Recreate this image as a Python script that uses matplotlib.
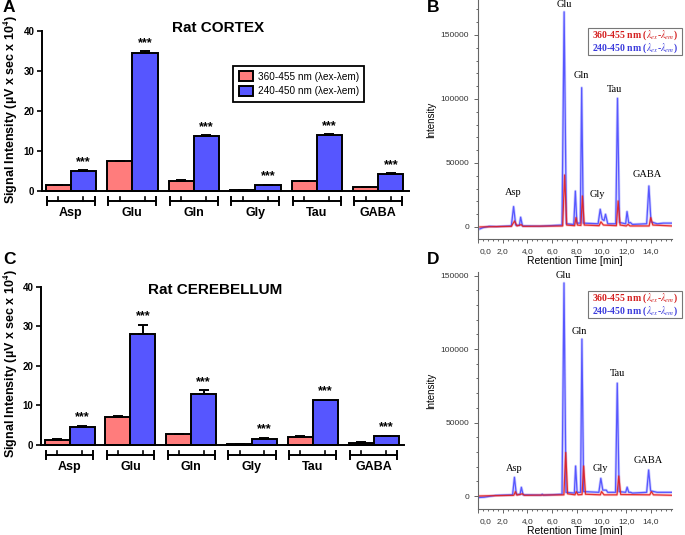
import matplotlib
matplotlib.use("Agg")
import matplotlib.pyplot as plt
from matplotlib.ticker import MultipleLocator, FuncFormatter
from matplotlib.transforms import ScaledTranslation

plt.rcParams["font.family"] = ["Liberation Sans", "DejaVu Sans"]
plt.rcParams["mathtext.fontset"] = "stix"

W, H = 685, 535

# --- bar data (signal intensity, µV x sec x 10^4) ---
amino = ["Asp", "Glu", "Gln", "Gly", "Tau", "GABA"]

cortex_red = [1.5, 7.4, 2.6, 0.3, 2.5, 0.9]
cortex_red_err = [0.1, 0.15, 0.1, 0.05, 0.1, 0.05]
cortex_blue = [5.0, 34.6, 13.8, 1.5, 14.0, 4.3]
cortex_blue_err = [0.15, 0.35, 0.15, 0.1, 0.2, 0.1]

cereb_red = [1.3, 7.0, 2.8, 0.3, 2.1, 0.6]
cereb_red_err = [0.1, 0.3, 0.1, 0.05, 0.1, 0.05]
cereb_blue = [4.6, 28.0, 13.0, 1.6, 11.3, 2.3]
cereb_blue_err = [0.3, 2.3, 0.8, 0.2, 0.15, 0.1]

# --- chromatograms (retention time [min], intensity) ---
b_blue_t = [0.15, 0.4, 0.9, 1.5, 2.7, 2.88, 3.05, 3.35, 3.45, 3.6, 5.0, 6.8, 6.97, 7.15,
            7.75, 7.88, 8.0, 8.28, 8.39, 8.52, 9.72, 9.89, 10.05, 10.2, 10.32, 10.5,
            11.15, 11.29, 11.45, 11.95, 12.06, 12.2, 12.33, 12.5, 13.65, 13.83, 14.0,
            14.5, 15.0, 15.7]
b_blue_i = [-1500, -500, 500, 300, 800, 15900, 1500, 1200, 7600, 800, 600, 1500, 168000, 2500,
            2000, 28000, 3000, 3000, 108800, 3000, 2500, 13800, 6000, 5000, 9900, 2500,
            2500, 100500, 3500, 2500, 12000, 3000, 3500, 2000, 2500, 32000, 4000,
            2500, 3000, 3000]
b_red_t = [0.15, 2.7, 2.96, 3.15, 3.5, 3.65, 6.85, 7.01, 7.18, 7.82, 7.93, 8.05, 8.33, 8.45,
           8.6, 9.8, 9.95, 10.15, 11.2, 11.34, 11.5, 12.0, 12.14, 12.3, 13.85, 13.98, 14.15, 15.7]
b_red_i = [0, 500, 4700, 800, 1800, 500, 800, 40600, 1500, 1000, 7300, 1500, 1200, 24200,
           1500, 1000, 4000, 1500, 1000, 20300, 1500, 800, 2000, 800, 800, 7300, 1500, 800]

d_blue_t = [0.1, 0.5, 1.4, 2.8, 2.95, 3.1, 3.4, 3.51, 3.65, 5.1, 5.2, 5.3, 6.8, 6.96, 7.12,
            7.8, 7.9, 8.02, 8.3, 8.41, 8.55, 9.78, 9.94, 10.1, 10.38, 10.5, 11.13, 11.27,
            11.42, 11.95, 12.07, 12.2, 12.35, 12.5, 13.65, 13.81, 13.97, 14.5, 15.7]
d_blue_i = [-1000, -800, 400, 800, 12700, 1200, 1000, 5900, 800, 600, 1200, 600, 1200, 145000, 2500,
            2000, 20400, 2500, 2500, 106800, 3000, 2500, 12000, 4000, 4000, 2500, 2500, 76800,
            3000, 2500, 6000, 2500, 2500, 2000, 2500, 17700, 3500, 2500, 2500]
d_red_t = [0.1, 2.9, 3.03, 3.15, 3.6, 3.75, 6.95, 7.1, 7.25, 7.85, 7.95, 8.1, 8.42, 8.55, 8.7,
           9.9, 10.0, 10.2, 11.25, 11.39, 11.55, 13.9, 14.03, 14.2, 15.7]
d_red_i = [0, 500, 3000, 600, 1500, 500, 800, 29600, 1500, 800, 3000, 800, 1000, 20400, 1200,
           800, 3000, 800, 800, 13600, 1000, 800, 3000, 800, 500]

RED = "#ff7c7c"
BLUE = "#5656ff"
LEG_RED = "360-455 nm (\u03bbex-\u03bbem)"
LEG_BLUE = "240-450 nm (\u03bbex-\u03bbem)"

fig = plt.figure(figsize=(W / 100, H / 100), dpi=100)


def px_axes(left, top, right, bottom):
    return fig.add_axes([left / W, 1 - bottom / H, (right - left) / W, (bottom - top) / H])


def bar_panel(ax, red, red_err, blue, blue_err, title, title_y, legend=False):
    w = 0.41
    x = list(range(len(amino)))
    xr = [i - w / 2 for i in x]
    xb = [i + w / 2 for i in x]
    zeros = [0] * len(x)
    br = ax.bar(xr, red, w, color=RED, edgecolor="black", linewidth=1.4,
                yerr=[zeros, red_err], capsize=3.5, error_kw=dict(elinewidth=1.4, capthick=1.4))
    bb = ax.bar(xb, blue, w, color=BLUE, edgecolor="black", linewidth=1.4,
                yerr=[zeros, blue_err], capsize=3.5, error_kw=dict(elinewidth=1.4, capthick=1.4))
    for xi, v, e in zip(xb, blue, blue_err):
        ax.text(xi, v + e + 0.6, "***", ha="center", va="bottom", fontsize=9, fontweight="bold")
    # grouped category brackets under the axis
    for i, name in enumerate(amino):
        l, r = i - w * 0.95, i + w * 0.95
        ax.plot([l, r], [-2.6, -2.6], color="black", lw=1.4, clip_on=False)
        ax.plot([l, l], [-1.6, -3.6], color="black", lw=1.4, clip_on=False)
        ax.plot([r, r], [-1.6, -3.6], color="black", lw=1.4, clip_on=False)
        for c in (xr[i], xb[i]):
            ax.plot([c, c], [-2.6, -1.6], color="black", lw=1.2, clip_on=False)
        ax.text(i, -5.5, name, ha="center", va="center", fontsize=9, fontweight="bold")
    ax.set_xlim(-0.47, 5.5)
    ax.set_ylim(-8, 44)
    ax.spines[["top", "right"]].set_visible(False)
    ax.spines["bottom"].set_position(("data", 0))
    ax.spines["left"].set_bounds(0, 40)
    ax.spines["left"].set_linewidth(1.4)
    ax.spines["bottom"].set_linewidth(1.4)
    ax.set_xticks([])
    ax.set_yticks([0, 10, 20, 30, 40])
    ax.tick_params(axis="y", width=1.2, length=3.5, labelsize=7, pad=2)
    for t in ax.get_yticklabels():
        t.set_fontweight("bold")
    ax.text(0.48, title_y, title, transform=ax.transAxes, ha="center",
            va="center", fontsize=11, fontweight="bold")
    if legend:
        leg = ax.legend([br, bb], [LEG_RED, LEG_BLUE], loc="upper left",
                        bbox_to_anchor=(228 / W, 1 - 61 / H), bbox_transform=fig.transFigure,
                        fontsize=7.2, frameon=True, fancybox=False, edgecolor="black",
                        handlelength=1.4, handleheight=1.1, handletextpad=0.5,
                        borderpad=0.55, labelspacing=0.45, framealpha=1)
        leg.get_frame().set_linewidth(1.3)


def chrom_panel(ax, bt, bi, rt, ri, labels, ylim, leg_top):
    # light wide trace under a thin darker one, like the overlaid runs in the original
    ax.plot(bt, bi, color=BLUE, lw=2.0, alpha=0.3, solid_joinstyle="round")
    ax.plot(rt, ri, color="#ff5050", lw=2.0, alpha=0.3, solid_joinstyle="round")
    ax.plot(bt, bi, color="#4a4aff", lw=0.9, alpha=0.9)
    ax.plot(rt, ri, color="#e02020", lw=0.9, alpha=0.9)
    for name, (tx, ty) in labels.items():
        ax.text(tx, ty, name, ha="center", va="center", fontsize=7.5, family="Liberation Serif")
    ax.set_xlim(0.0, 15.7)
    ax.set_ylim(*ylim)
    ax.spines[["top", "right"]].set_visible(False)
    for s in ("left", "bottom"):
        ax.spines[s].set_color("#666666")
        ax.spines[s].set_linewidth(0.8)
    ax.xaxis.set_minor_locator(MultipleLocator(0.4))
    ax.xaxis.set_major_formatter(FuncFormatter(lambda v, p: f"{v:.1f}".replace(".", ",")))
    ax.set_xticks([0, 2, 4, 6, 8, 10, 12, 14])
    ax.yaxis.set_minor_locator(MultipleLocator(10000))
    ax.set_yticks([0, 50000, 100000, 150000])
    ax.tick_params(which="both", colors="#666666", labelcolor="#333333", labelsize=6, width=0.7)
    ax.tick_params(which="major", length=3)
    ax.tick_params(which="minor", length=1.5)
    # the "0,0" label sits a little right of the axis in the original
    first = ax.get_xticklabels()[0]
    first.set_transform(first.get_transform() + ScaledTranslation(8 / 100, 0, fig.dpi_scale_trans))
    ax.set_xlabel("Retention Time [min]", fontsize=7.5, labelpad=1)
    ax.set_ylabel("Intensity", fontsize=7, labelpad=3)
    # legend box
    box_l, box_r = 588 / W, 682 / W
    fig.patches.append(plt.Rectangle((box_l, 1 - (leg_top + 27) / H), box_r - box_l, 27 / H,
                                     transform=fig.transFigure, fill=False,
                                     edgecolor="#777777", lw=0.8))
    fig.text((box_l + box_r) / 2, 1 - (leg_top + 7.5) / H,
             r"360-455 nm ($\lambda_{ex}$-$\lambda_{em}$)", color="#d41f1f",
             ha="center", va="center", fontsize=7, family="Liberation Serif", fontweight="bold")
    fig.text((box_l + box_r) / 2, 1 - (leg_top + 20) / H,
             r"240-450 nm ($\lambda_{ex}$-$\lambda_{em}$)", color="#3a3adc",
             ha="center", va="center", fontsize=7, family="Liberation Serif", fontweight="bold")


# A: cortex bars
axA = px_axes(42, 15, 409, 223)
bar_panel(axA, cortex_red, cortex_red_err, cortex_blue, cortex_blue_err, "Rat CORTEX", 0.9375,
          legend=True)

# C: cerebellum bars
axC = px_axes(41, 270.8, 404, 476.7)
bar_panel(axC, cereb_red, cereb_red_err, cereb_blue, cereb_blue_err, "Rat CEREBELLUM", 0.907)

ylab = "Signal Intensity (\u00b5V x sec x 10$^{\\mathbf{4}}$)"
fig.text(11 / W, 1 - 110 / H, ylab, rotation=90, ha="center", va="center",
         fontsize=9, fontweight="bold")
fig.text(11 / W, 1 - 364 / H, ylab, rotation=90, ha="center", va="center",
         fontsize=9, fontweight="bold")

# B: cortex chromatogram
axB = px_axes(478, 0, 672, 239)
chrom_panel(axB, b_blue_t, b_blue_i, b_red_t, b_red_i,
            {"Glu": (6.96, 173400), "Gln": (8.33, 118000), "Tau": (11.07, 107000),
             "Asp": (2.86, 27300), "Gly": (9.7, 25000), "GABA": (13.72, 40600)},
            (-9400, 177300), 28)

# D: cerebellum chromatogram
axD = px_axes(478, 272, 672, 509)
chrom_panel(axD, d_blue_t, d_blue_i, d_red_t, d_red_i,
            {"Glu": (6.9, 150000), "Gln": (8.2, 112000), "Tau": (11.25, 83600),
             "Asp": (2.94, 18400), "Gly": (9.87, 18400), "GABA": (13.8, 24000)},
            (-8850, 152500), 291)

for lab, x, y in [("A", 9, 7), ("B", 433, 8), ("C", 9, 259), ("D", 433, 259)]:
    fig.text(x / W, 1 - y / H, lab, ha="center", va="center", fontsize=12.5, fontweight="bold")

fig.savefig("out.png", dpi=100)
